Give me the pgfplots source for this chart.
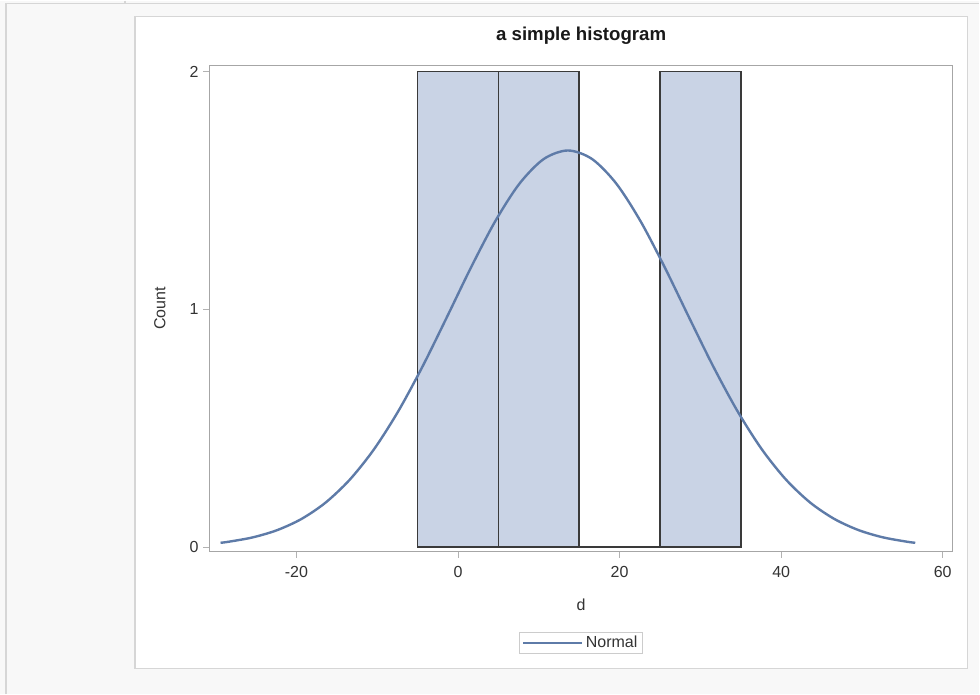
\documentclass[border=0pt]{standalone}
\usepackage{fontspec}
\setmainfont{Liberation Sans}
\usepackage{pgfplots}
\pgfplotsset{compat=1.18}

\definecolor{barfill}{HTML}{C9D3E5}
\definecolor{baredge}{HTML}{3A3A3A}
\definecolor{fitline}{HTML}{5E7BA8}
\definecolor{pagebg}{HTML}{F8F8F8}
\definecolor{frame}{HTML}{D6D6D6}
\definecolor{txt}{HTML}{333333}

\begin{document}
\begin{tikzpicture}
% page background and panel (1px = 0.75pt, y downwards negative)
\fill[pagebg] (0,0) rectangle (980*0.75pt,-694*0.75pt);
\draw[frame, line width=0.9pt] (6*0.75pt,-694*0.75pt) -- (6*0.75pt,-3*0.75pt) -- (980*0.75pt,-3*0.75pt);
\draw[frame, line width=0.9pt] (125*0.75pt,0) -- (125*0.75pt,-3*0.75pt);
\filldraw[fill=white, draw=frame, line width=0.9pt] (135*0.75pt,-16*0.75pt) rectangle (968*0.75pt,-668*0.75pt);

\begin{axis}[
  at={(210*0.75pt,-551*0.75pt)}, anchor=south west,
  scale only axis, width=743*0.75pt, height=486*0.75pt,
  xmin=-30.72, xmax=61.2, ymin=-0.017, ymax=2.025,
  xtick={-20,0,20,40,60}, ytick={0,1,2},
  xtick pos=left, ytick pos=left,
  tick align=outside, major tick length=5pt,
  tick style={draw=black!30, line width=0.8pt},
  axis line style={draw=black!35, line width=0.9pt},
  /pgf/number format/assume math mode=true,
  ticklabel style={font=\fontsize{12}{14}\selectfont, text=txt},
  xticklabel style={yshift=-3pt},
  xlabel={d}, ylabel={Count},
  label style={font=\fontsize{12}{14}\selectfont, text=txt},
  xlabel style={at={(axis description cs:0.5,0)}, anchor=center, yshift=-54*0.75pt},
  ylabel style={at={(axis description cs:0,0.5)}, anchor=center, rotate=0, yshift=50*0.75pt},
  title={a simple histogram},
  title style={at={(axis description cs:0.5,1)}, anchor=center, yshift=22*0.75pt,
    font=\fontsize{14}{16}\selectfont\bfseries, text=black!90},
  legend style={at={(axis description cs:0.5,0)}, anchor=center, yshift=-91.5*0.75pt,
    draw=black!20, line width=0.6pt, font=\fontsize{12}{14}\selectfont, text=txt,
    inner xsep=2pt, inner ysep=1pt},
  legend image code/.code={\draw[#1] (0pt,0pt) -- (44pt,0pt);},
]
\addplot[ybar interval, fill=barfill, draw=baredge, line width=1.1pt, forget plot]
  coordinates {(-5,2) (5,2) (15,0) (25,2) (35,2)};
\addplot[fitline, line width=1.8pt, smooth] coordinates {
  (-29.4,0.0187) (-28.4,0.0230) (-25.4,0.0415) (-22.4,0.0717) (-19.4,0.1185)
  (-16.4,0.1875) (-13.4,0.2841) (-10.4,0.4119) (-7.4,0.5717) (-4.4,0.7595)
  (-1.4,0.9659) (1.6,1.1758) (4.6,1.3702) (7.6,1.5284) (10.6,1.6319)
  (13.6,1.6680) (16.6,1.6319) (19.6,1.5284) (22.6,1.3702) (25.6,1.1758)
  (28.6,0.9659) (31.6,0.7595) (34.6,0.5717) (37.6,0.4119) (40.6,0.2841)
  (43.6,0.1875) (46.6,0.1185) (49.6,0.0717) (52.6,0.0415) (55.6,0.0230)
  (56.6,0.0187)};
\legend{Normal}
\end{axis}
\end{tikzpicture}
\end{document}
